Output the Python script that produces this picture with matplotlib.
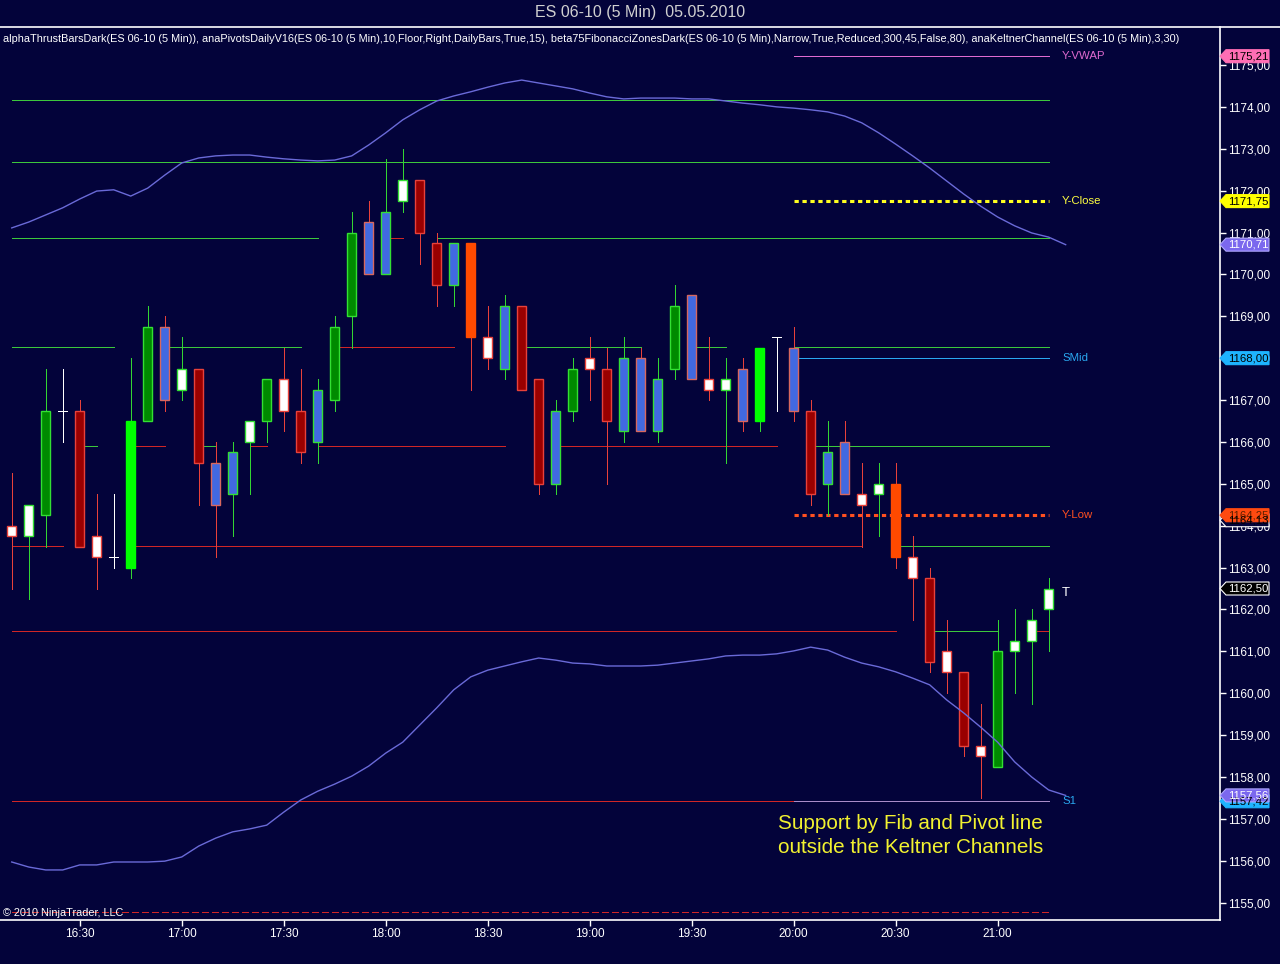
import matplotlib
matplotlib.use("Agg")
import matplotlib.pyplot as plt
from matplotlib.patches import Polygon
from matplotlib.lines import Line2D
import matplotlib.transforms as mtransforms

plt.rcParams['font.family'] = ['Liberation Sans', 'DejaVu Sans']

# ES 06-10, 5 min bars from 16:10
first_bar = '16:10'
opens = [1164.0, 1163.75, 1164.25, 1166.75, 1166.75, 1163.75, 1163.25, 1163.0, 1166.5, 1168.75,
         1167.25, 1167.75, 1165.5, 1164.75, 1166.0, 1166.5, 1167.5, 1166.75, 1166.0, 1167.0,
         1169.0, 1171.25, 1170.0, 1171.75, 1172.25, 1170.75, 1169.75, 1170.75, 1168.5, 1167.75,
         1169.25, 1167.5, 1165.0, 1166.75, 1168.0, 1167.75, 1166.25, 1168.0, 1166.25, 1167.75,
         1169.5, 1167.5, 1167.25, 1167.75, 1166.5, 1168.5, 1168.25, 1166.75, 1165.0, 1166.0,
         1164.75, 1164.75, 1165.0, 1163.25, 1162.75, 1161.0, 1160.5, 1158.75, 1158.25, 1161.0,
         1161.25, 1162.0]
highs = [1165.25, 1164.5, 1167.75, 1167.75, 1167.0, 1164.75, 1164.75, 1168.0, 1169.25, 1169.0,
         1168.5, 1167.75, 1166.0, 1166.0, 1166.5, 1167.5, 1168.25, 1167.75, 1167.5, 1169.0,
         1171.5, 1171.75, 1172.75, 1173.0, 1172.25, 1171.0, 1170.75, 1170.75, 1169.25, 1169.5,
         1169.25, 1167.5, 1167.0, 1168.0, 1168.5, 1168.25, 1168.5, 1168.25, 1168.0, 1169.75,
         1169.5, 1168.5, 1168.0, 1168.0, 1168.25, 1168.5, 1168.75, 1167.0, 1166.5, 1166.5,
         1165.5, 1165.5, 1165.5, 1163.75, 1163.0, 1161.75, 1160.5, 1159.75, 1161.75, 1162.0,
         1162.0, 1162.75]
lows = [1162.5, 1162.25, 1163.5, 1166.0, 1163.5, 1162.5, 1163.0, 1162.75, 1166.5, 1166.75,
        1167.0, 1164.5, 1163.25, 1163.75, 1164.75, 1166.0, 1166.25, 1165.5, 1165.5, 1166.75,
        1168.25, 1170.0, 1170.0, 1171.5, 1170.25, 1169.25, 1169.25, 1167.25, 1167.75, 1167.5,
        1167.25, 1164.75, 1164.75, 1166.5, 1167.0, 1165.0, 1166.0, 1166.25, 1166.0, 1167.5,
        1167.5, 1167.0, 1165.5, 1166.25, 1166.25, 1166.75, 1166.5, 1164.5, 1164.25, 1164.75,
        1163.5, 1163.75, 1163.0, 1161.75, 1160.5, 1160.0, 1158.5, 1157.5, 1158.25, 1160.0,
        1159.75, 1161.0]
closes = [1163.75, 1164.5, 1166.75, 1166.75, 1163.5, 1163.25, 1163.25, 1166.5, 1168.75, 1167.0,
          1167.75, 1165.5, 1164.5, 1165.75, 1166.5, 1167.5, 1166.75, 1165.75, 1167.25, 1168.75,
          1171.0, 1170.0, 1171.5, 1172.25, 1171.0, 1169.75, 1170.75, 1168.5, 1168.0, 1169.25,
          1167.25, 1165.0, 1166.75, 1167.75, 1167.75, 1166.5, 1168.0, 1166.25, 1167.5, 1169.25,
          1167.5, 1167.25, 1167.5, 1166.5, 1168.25, 1168.5, 1166.75, 1164.75, 1165.75, 1164.75,
          1164.5, 1165.0, 1163.25, 1162.75, 1160.75, 1160.5, 1158.75, 1158.5, 1161.0, 1161.25,
          1161.75, 1162.5]
# thrust bar type per bar
bar_kind = ['W_r', 'W_g', 'G', 'X', 'R', 'W_r', 'X', 'LG', 'G', 'B_r',
            'W_g', 'R', 'B_r', 'B_g', 'W_g', 'G', 'W_r', 'R', 'B_g', 'G',
            'G', 'B_r', 'B_g', 'W_g', 'R', 'R', 'B_g', 'O', 'W_r', 'B_g',
            'R', 'R', 'B_g', 'G', 'W_r', 'R', 'B_g', 'B_r', 'B_g', 'G',
            'B_r', 'W_r', 'W_g', 'B_r', 'LG', 'X', 'B_r', 'R', 'B_g', 'B_r',
            'W_r', 'W_g', 'O', 'W_r', 'R', 'W_r', 'R', 'W_r', 'G', 'W_g',
            'W_g', 'W_g']

kelt_upper = [1171.11, 1171.25, 1171.42, 1171.59, 1171.80, 1171.99, 1172.02, 1171.87, 1172.06, 1172.37,
              1172.66, 1172.78, 1172.83, 1172.85, 1172.85, 1172.80, 1172.76, 1172.73, 1172.71, 1172.73,
              1172.83, 1173.09, 1173.38, 1173.69, 1173.93, 1174.14, 1174.26, 1174.36, 1174.47, 1174.57,
              1174.64, 1174.57, 1174.50, 1174.43, 1174.33, 1174.24, 1174.19, 1174.21, 1174.21, 1174.21,
              1174.19, 1174.19, 1174.14, 1174.09, 1174.05, 1174.00, 1173.97, 1173.93, 1173.88, 1173.78,
              1173.62, 1173.38, 1173.11, 1172.83, 1172.54, 1172.23, 1171.92, 1171.63, 1171.37, 1171.16,
              1170.99, 1170.89, 1170.71]
kelt_lower = [1155.97, 1155.85, 1155.78, 1155.78, 1155.90, 1155.90, 1155.97, 1155.97, 1155.97, 1155.99,
              1156.09, 1156.35, 1156.54, 1156.69, 1156.76, 1156.85, 1157.16, 1157.45, 1157.66, 1157.83,
              1158.02, 1158.26, 1158.57, 1158.83, 1159.24, 1159.65, 1160.08, 1160.39, 1160.55, 1160.65,
              1160.75, 1160.84, 1160.79, 1160.72, 1160.70, 1160.65, 1160.65, 1160.65, 1160.67, 1160.72,
              1160.77, 1160.82, 1160.89, 1160.91, 1160.91, 1160.94, 1161.01, 1161.10, 1161.03, 1160.86,
              1160.72, 1160.63, 1160.51, 1160.36, 1160.20, 1159.84, 1159.53, 1159.19, 1158.83, 1158.36,
              1158.00, 1157.69, 1157.56]

# fib / pivot zone segments: (price, first bar, last bar, colour code)
zone_segments = [
    (1174.16, 0, 61, 'g'), (1172.68, 0, 61, 'g'),
    (1170.86, 0, 18, 'g'), (1170.86, 22, 23, 'r'), (1170.86, 25, 61, 'g'),
    (1168.26, 0, 6, 'g'), (1168.26, 9, 17, 'g'), (1168.26, 19, 26, 'r'),
    (1168.26, 30, 37, 'g'), (1168.26, 40, 42, 'g'), (1168.26, 46, 61, 'g'),
    (1165.90, 4, 5, 'g'), (1165.90, 7, 9, 'r'), (1165.90, 11, 12, 'g'), (1165.90, 14, 15, 'r'),
    (1165.90, 18, 29, 'r'), (1165.90, 32, 45, 'r'), (1165.90, 47, 61, 'g'),
    (1163.51, 0, 3, 'r'), (1163.51, 7, 50, 'r'), (1163.51, 52, 61, 'g'),
    (1161.49, 0, 52, 'r'), (1161.49, 54, 58, 'g'), (1161.49, 60, 61, 'r'),
    (1157.42, 0, 61, 'r'),
]
s1 = 1157.42
y_vwap, y_close, s_mid, y_low, lowest_fib = 1175.21, 1171.75, 1168.00, 1164.25, 1154.78
last_price = 1162.50

time_labels = ['16:30', '17:00', '17:30', '18:00', '18:30', '19:00', '19:30', '20:00', '20:30', '21:00']
y_ticks = list(range(1155, 1176))

bg = '#03033a'
fill_c = {'W_r': 'white', 'W_g': 'white', 'G': '#008a00', 'LG': '#00ff00', 'R': '#990000',
          'O': '#ff4a00', 'B_r': '#4169e1', 'B_g': '#4169e1', 'X': 'white'}
edge_c = {'W_r': '#e8413a', 'W_g': '#33e033', 'G': '#33e033', 'LG': '#00ff00', 'R': '#e8413a',
          'O': '#ff4a00', 'B_r': '#d8675e', 'B_g': '#33e033', 'X': 'white'}
wick_c = {'W_r': '#e8413a', 'W_g': '#33d633', 'G': '#33d633', 'LG': '#33d633', 'R': '#e8413a',
          'O': '#e8413a', 'B_r': '#e8413a', 'B_g': '#33d633', 'X': 'white'}
seg_c = {'g': '#3cc83c', 'r': '#d02626'}
px = 0.72  # one pixel line width

W, H = 1280, 964
fig = plt.figure(figsize=(W / 100, H / 100), dpi=100, facecolor=bg)
ax = fig.add_axes([0, 44 / H, 1220 / W, 893 / H])
ax.set_facecolor(bg)
ax.set_xlim(-0.69, 71.08)
ax.set_ylim(1154.585, 1175.907)

# zone lines
for price, i0, i1, c in zone_segments:
    ax.hlines(price, i0, i1, color=seg_c[c], lw=px, antialiased=False, zorder=1)
ax.hlines(s1, 46, 61, color='#a98cc8', lw=px, antialiased=False, zorder=1.1)
ax.hlines(lowest_fib, 0, 61, color='#d02626', lw=px, linestyles=(0, (6, 3)),
          antialiased=False, zorder=1)
ax.hlines(y_vwap, 46, 61, color='#e06ad0', lw=px, antialiased=False, zorder=1)
ax.hlines(s_mid, 46, 61, color='#2aa8f0', lw=px, antialiased=False, zorder=1)
ax.plot([46, 61], [y_close, y_close], color='#ffff20', lw=2.2, ls=(0, (1.4, 1.2)), zorder=1)
ax.plot([46, 61], [y_low, y_low], color='#ff5020', lw=2.2, ls=(0, (1.4, 1.2)), zorder=1)

# candles
xs = list(range(len(opens)))
for i in xs:
    k = bar_kind[i]
    o, h, l, c = opens[i], highs[i], lows[i], closes[i]
    ax.vlines(i, l, h, color=wick_c[k], lw=px, antialiased=False, zorder=3)
    if k == 'X':
        ax.hlines(o, i - 0.27, i + 0.27, color='white', lw=px, antialiased=False, zorder=3)
    else:
        ax.bar(i, abs(c - o), bottom=min(o, c), width=0.5, color=fill_c[k],
               edgecolor=edge_c[k], linewidth=1.0, zorder=4)
ax.text(62, 1162.4, 'T', color='white', fontsize=9.5, ha='center', va='center', zorder=5)

# keltner channel
kx = list(range(len(kelt_upper)))
ax.plot(kx, kelt_upper, color='#6a6ad8', lw=1.0, zorder=5)
ax.plot(kx, kelt_lower, color='#6a6ad8', lw=1.0, zorder=5)

# line labels
for price, txt, col in [(y_vwap, 'Y-VWAP', '#e06ad0'), (y_close, 'Y-Close', '#ffff40'),
                        (s_mid, 'SMid', '#2aa8f0'), (y_low, 'Y-Low', '#ff5020'),
                        (s1, 'S1', '#2aa8f0')]:
    ax.text(61.8, price, txt, color=col, fontsize=8.2, va='center', ha='left', zorder=6)

ax.text(45.1, 1156.88, 'Support by Fib and Pivot line', color='#f2f230', fontsize=14.9,
        va='center', ha='left', zorder=6)
ax.text(45.1, 1156.31, 'outside the Keltner Channels', color='#f2f230', fontsize=14.9,
        va='center', ha='left', zorder=6)

# axes styling
for s in ['left', 'top']:
    ax.spines[s].set_visible(False)
for s in ['right', 'bottom']:
    ax.spines[s].set_color('white')
    ax.spines[s].set_linewidth(1.2)
ax.yaxis.tick_right()
ax.set_yticks(y_ticks)
ax.set_yticklabels([f'{v:.2f}'.replace('.', ',') for v in y_ticks])
h0, m0 = map(int, first_bar.split(':'))
tick_idx = [((int(t[:2]) * 60 + int(t[3:])) - (h0 * 60 + m0)) / 5 for t in time_labels]
ax.set_xticks(tick_idx)
ax.set_xticklabels(time_labels)
ax.tick_params(colors='white', labelcolor='white', labelsize=8.5, length=4, width=1, pad=2)

# price tags on the right axis
tr = mtransforms.blended_transform_factory(ax.transAxes, ax.transData)


def tag(price, text, fc, tc, ec=None):
    hh = 6.5 / 41.88
    x0, x1, x2 = 1220 / 1220, 1226 / 1220, 1269 / 1220
    poly = Polygon([(x0, price), (x1, price + hh), (x2, price + hh), (x2, price - hh), (x1, price - hh)],
                   closed=True, transform=tr, facecolor=fc, edgecolor=ec or fc, lw=0.8,
                   clip_on=False, zorder=10)
    ax.add_patch(poly)
    ax.text(1248 / 1220, price, text, transform=tr, color=tc, fontsize=8.2, ha='center',
            va='center', clip_on=False, zorder=11)


tag(y_vwap, '1175,21', '#ff6eb4', 'black')
tag(y_close, '1171,75', '#ffff00', 'black')
tag(kelt_upper[-1], '1170,71', '#7b68ee', 'white', '#b0a8ff')
tag(s_mid, '1168,00', '#1eb4ff', 'black')
tag(1164.13, '', bg, 'white', 'white')
tag(y_low, '1164,25', '#ff4a10', '#602000')
ax.text(1248 / 1220, 1164.13, '1164,13', transform=tr, color='black', fontsize=8.2,
        ha='center', va='center', clip_on=False, zorder=12)
tag(last_price, '1162,50', 'black', 'white', 'white')
tag(s1, '1157,42', '#1eb4ff', 'black')
tag(kelt_lower[-1], '1157,56', '#7b68ee', 'white', '#b0a8ff')

# header texts
fig.add_artist(Line2D([0, 1], [1 - 27 / H, 1 - 27 / H], transform=fig.transFigure,
                      color='white', lw=1.2))
fig.text(0.5, 1 - 13 / H, 'ES 06-10 (5 Min)  05.05.2010', color='#d0d0d0', fontsize=11.5,
         ha='center', va='center')
fig.text(3 / W, 1 - 39 / H,
         'alphaThrustBarsDark(ES 06-10 (5 Min)), anaPivotsDailyV16(ES 06-10 (5 Min),10,Floor,Right,'
         'DailyBars,True,15), beta75FibonacciZonesDark(ES 06-10 (5 Min),Narrow,True,Reduced,300,45,'
         'False,80), anaKeltnerChannel(ES 06-10 (5 Min),3,30)',
         color='white', fontsize=7.8, ha='left', va='center')
fig.text(3 / W, 1 - 913 / H, '\u00a9 2010 NinjaTrader, LLC', color='white', fontsize=7.8,
         ha='left', va='center')

fig.savefig('out.png', dpi=100, facecolor=bg)
